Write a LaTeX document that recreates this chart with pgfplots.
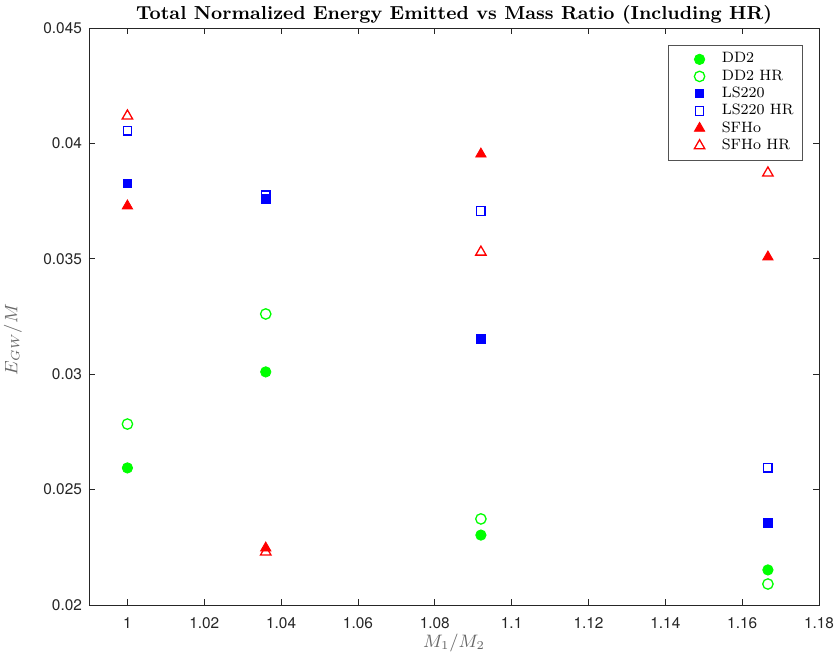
\documentclass[border=0pt]{standalone}
\usepackage{pgfplots}
\pgfplotsset{compat=1.18}
\usepackage{fontspec}
\newfontfamily\ticksans{TeX Gyre Heros}
\definecolor{axgray}{rgb}{0.15,0.15,0.15}

\begin{document}
\begin{tikzpicture}
\begin{axis}[
  scale only axis,
  width=365pt, height=288.5pt,
  xmin=0.99, xmax=1.18,
  ymin=0.02, ymax=0.045,
  scaled x ticks=false, scaled y ticks=false,
  xtick={1,1.02,...,1.181},
  ytick={0.02,0.025,0.03,0.035,0.04,0.045},
  xticklabels={1,1.02,1.04,1.06,1.08,1.1,1.12,1.14,1.16,1.18},
  yticklabels={0.02,0.025,0.03,0.035,0.04,0.045},
  tick align=inside,
  major tick length=3pt,
  axis line style={axgray, line width=0.4pt},
  every tick/.style={axgray, line width=0.4pt},
  tick label style={font=\ticksans\fontsize{7.7}{9}\selectfont, text=axgray},
  xticklabel style={anchor=center, yshift=-9pt},
  xticklabel shift=0pt,
  xlabel={$M_1/M_2$},
  ylabel={$E_{GW}/M$},
  xlabel style={font=\fontsize{8.8}{10}\selectfont, text=axgray!70,
    at={(axis description cs:0.5,0)}, anchor=center, yshift=-19pt},
  ylabel style={font=\fontsize{8.8}{10}\selectfont, text=axgray!70,
    at={(axis description cs:0,0.46)}, anchor=center, yshift=38pt},
  title={\textbf{Total Normalized Energy Emitted vs Mass Ratio (Including HR)}},
  title style={font=\fontsize{9.4}{10}\selectfont,
    at={(axis description cs:0.5,1)}, anchor=center, yshift=0.5pt},
  legend style={at={(0.978,0.971)}, anchor=north east, draw=axgray!80,
    font=\fontsize{7.5}{9}\selectfont, cells={anchor=west},
    row sep=-2.1pt, inner xsep=2.5pt, inner ysep=1.8pt},
  legend cell align=left,
  legend image code/.code={%
    \path (0cm,0cm) (0.75cm,0cm);
    \draw[#1] plot coordinates {(0.44cm,0cm)};},
  only marks,
]
% DD2
\addplot[mark=*, mark size=2.6pt, draw=green, fill=green] coordinates {
  (1.0000,0.02594) (1.0360,0.03010) (1.0920,0.02303) (1.1667,0.02152)};
\addlegendentry{DD2}
% DD2 HR
\addplot[mark=o, mark size=2.6pt, draw=green, line width=0.65pt] coordinates {
  (1.0000,0.02784) (1.0360,0.03261) (1.0920,0.02373) (1.1667,0.02091)};
\addlegendentry{DD2 HR}
% LS220
\addplot[mark=square*, mark size=2.1pt, draw=blue, fill=blue] coordinates {
  (1.0000,0.03828) (1.0360,0.03759) (1.0920,0.03153) (1.1667,0.02355)};
\addlegendentry{LS220}
% LS220 HR
\addplot[mark=square, mark size=2.1pt, draw=blue, line width=0.65pt] coordinates {
  (1.0000,0.04054) (1.0360,0.03776) (1.0920,0.03707) (1.1667,0.02594)};
\addlegendentry{LS220 HR}
% SFHo
\addplot[mark=triangle*, mark size=3pt, draw=red, fill=red] coordinates {
  (1.0000,0.03729) (1.0360,0.02247) (1.0920,0.03954) (1.1667,0.03508)};
\addlegendentry{SFHo}
% SFHo HR
\addplot[mark=triangle, mark size=3pt, draw=red, line width=0.65pt] coordinates {
  (1.0000,0.04119) (1.0360,0.02230) (1.0920,0.03529) (1.1667,0.03872)};
\addlegendentry{SFHo HR}
\end{axis}
% fixed margins around the axis box
\pgfresetboundingbox
\path ([shift={(-44.5pt,-27.5pt)}]current axis.south west)
  rectangle ([shift={(9.5pt,14pt)}]current axis.north east);
\end{tikzpicture}
\end{document}
